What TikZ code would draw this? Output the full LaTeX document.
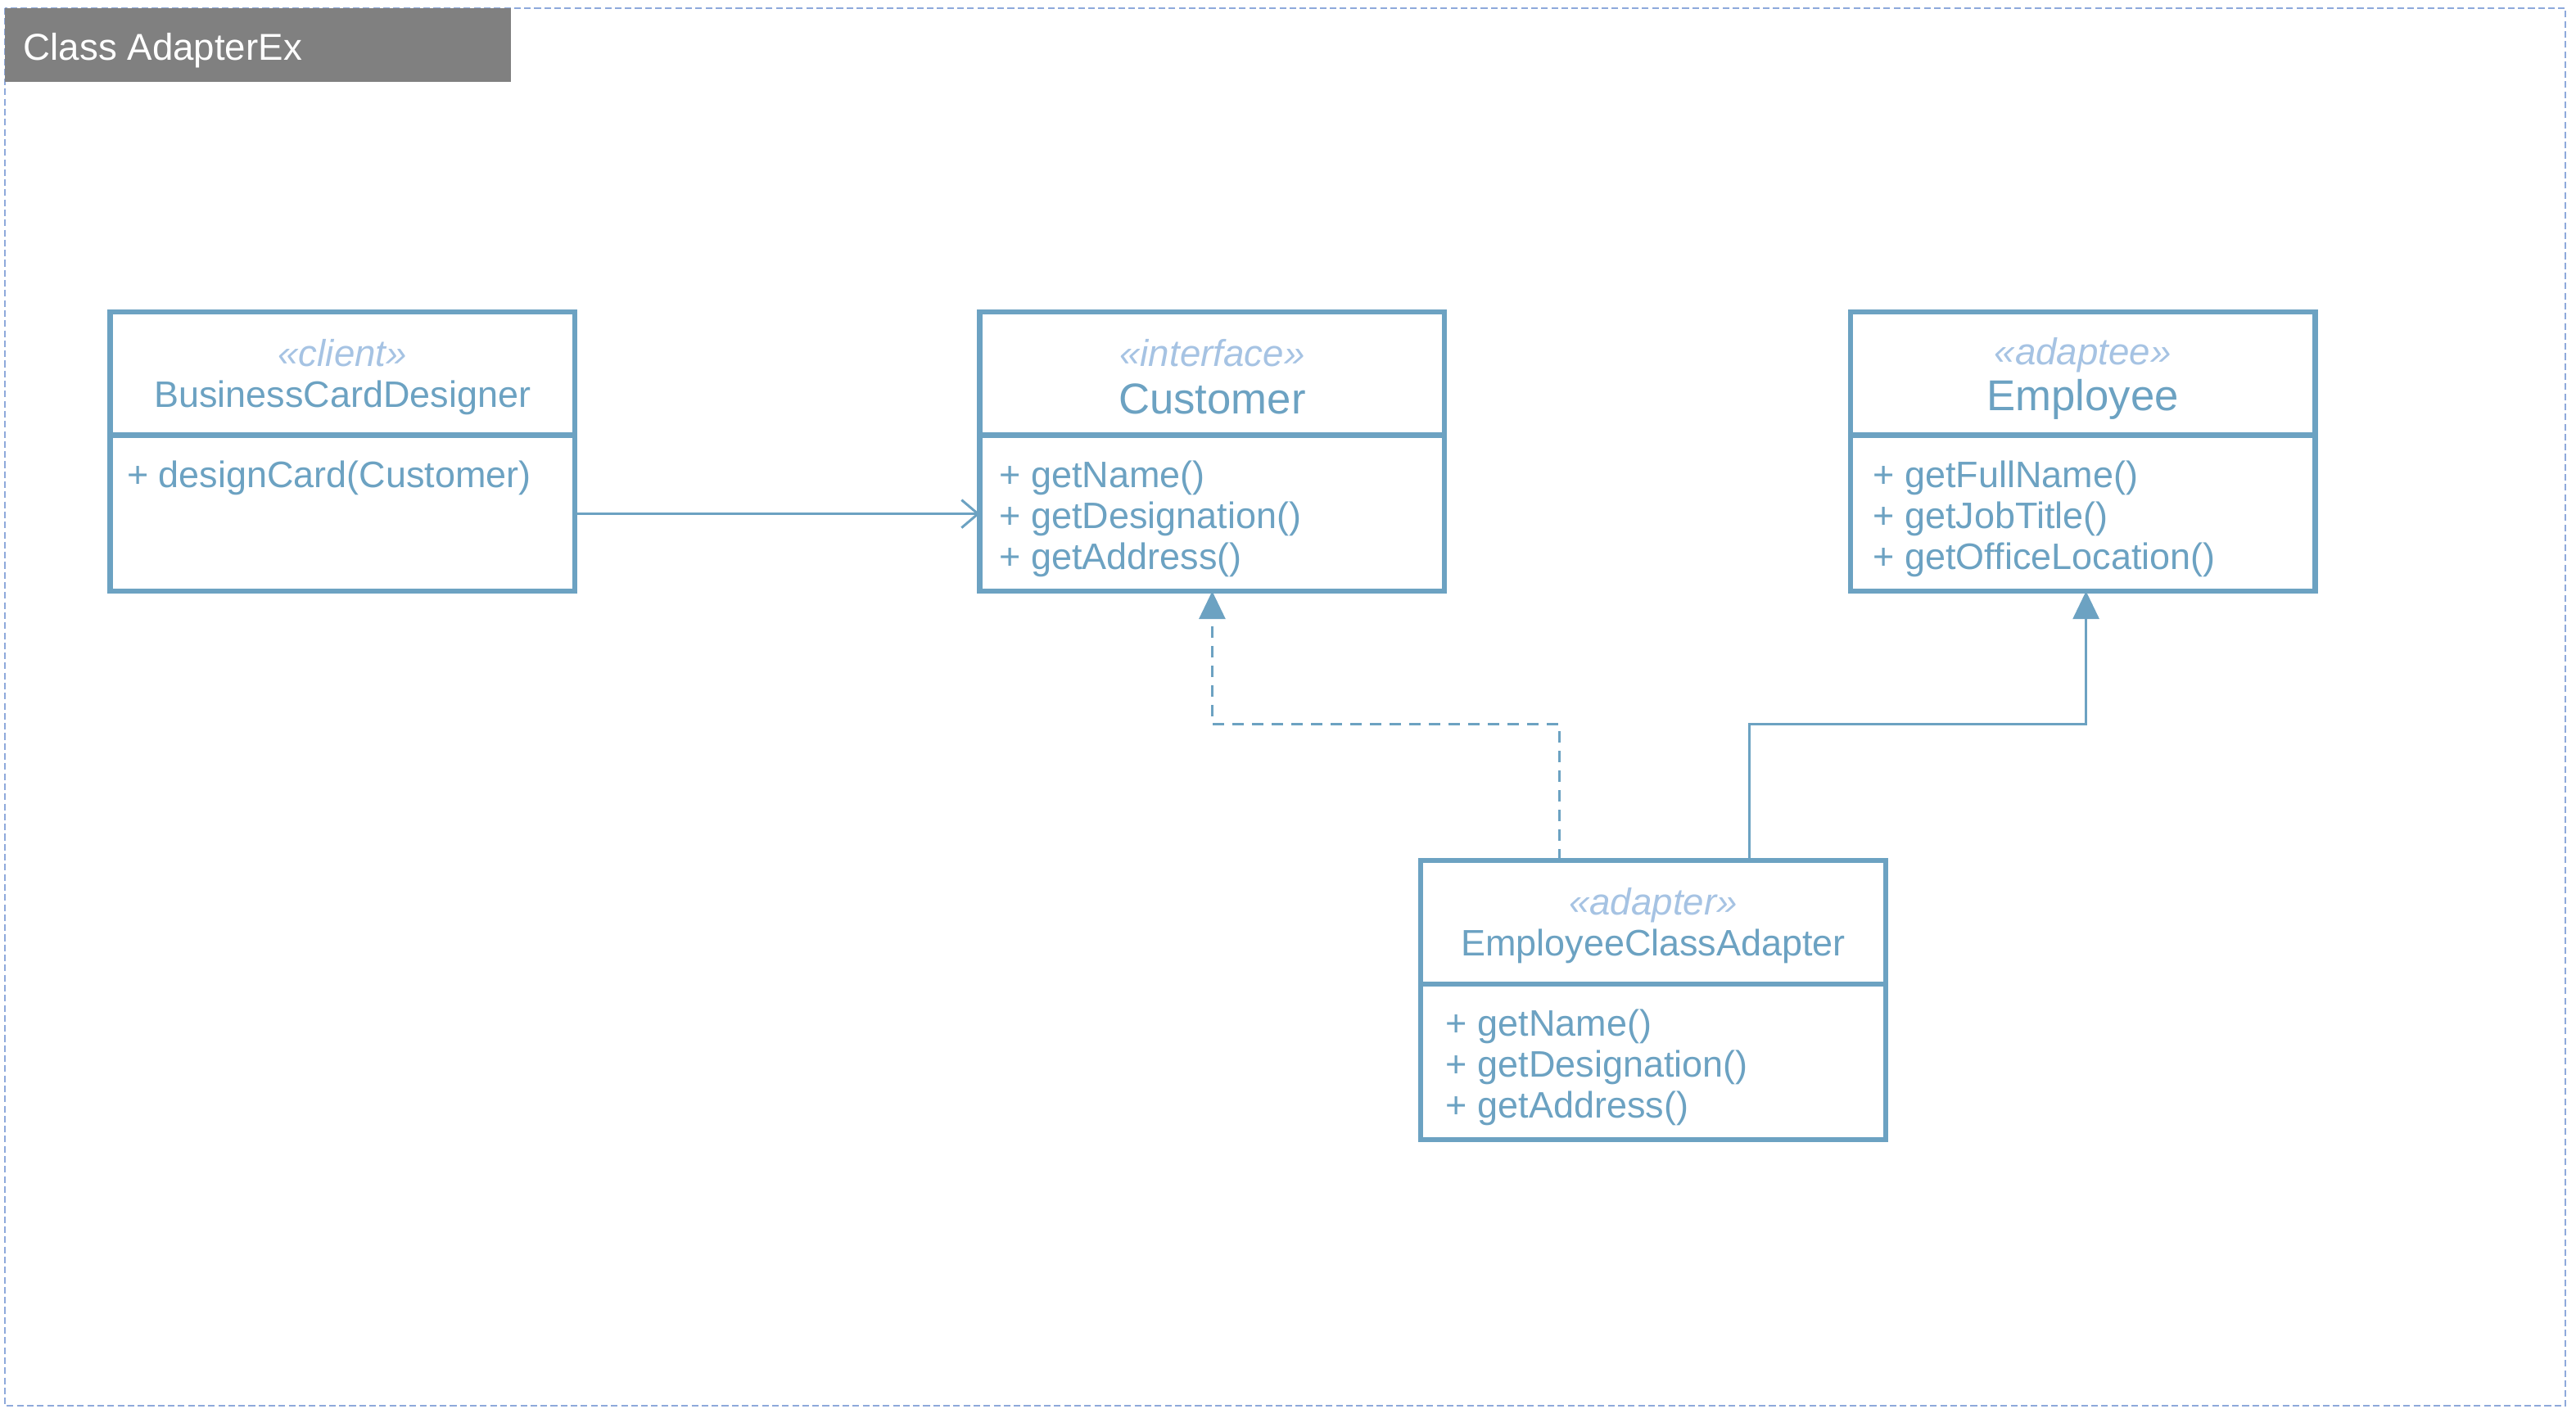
\documentclass[tikz,border=0pt]{standalone}
\usepackage{fontspec}
\setmainfont{Liberation Sans}
\usetikzlibrary{positioning,arrows.meta}
\definecolor{umlblue}{HTML}{6CA2C2}
\definecolor{stereoblue}{HTML}{A6C3E3}
\definecolor{titlegray}{HTML}{808080}
\definecolor{frameblue}{HTML}{8EA9DB}

\begin{document}
\begin{tikzpicture}[x=0.02006cm, y=-0.02006cm,
  classbox/.style = {draw=umlblue, line width=1.8pt, minimum width=5.677cm, minimum height=3.41cm, inner sep=0pt, outer sep=0pt},
  sepline/.style = {draw=umlblue, line width=1.8pt},
  stereo/.style = {text=stereoblue, font=\itshape\fontsize{13}{15}\selectfont, inner sep=0pt},
  cname/.style = {text=umlblue, font=\fontsize{12.8}{15}\selectfont, inner sep=0pt},
  bigname/.style = {text=umlblue, font=\fontsize{15}{18}\selectfont, inner sep=0pt},
  method/.style = {text=umlblue, font=\fontsize{12.8}{15}\selectfont, inner sep=0pt, anchor=west},
  assoc/.style = {draw=umlblue, line width=0.85pt, -{Straight Barb[length=0.2cm, width=0.34cm]}},
  realize/.style = {draw=umlblue, line width=0.85pt, dash pattern=on 0.14cm off 0.1cm, -{Triangle[length=0.34cm, width=0.32cm]}},
  inherit/.style = {draw=umlblue, line width=0.85pt, -{Triangle[length=0.34cm, width=0.32cm]}}]
\useasboundingbox (0,0) rectangle (1568.3,863.4);
% frame and title
\draw[frameblue, line width=0.6pt, dash pattern=on 2.3pt off 1.2pt] (3,5) rectangle (1562,856);
\fill[titlegray] (3,5) rectangle (311,50);
\node[anchor=west, text=white, font=\fontsize{13}{15}\selectfont, inner sep=0pt] (title) at (14,31) {Class AdapterEx};
% classes
\node[classbox] (bcd) at (208.5,275) {};
\node[classbox] (cust) at (738,275) {};
\node[classbox] (emp) at (1268,275) {};
\node[classbox] (adp) at (1006.5,609) {};
\foreach \b in {bcd,cust,emp,adp}
    \draw[sepline] ([yshift=-1.505cm]\b.north west) -- ([yshift=-1.505cm]\b.north east);
\node[stereo] (bcdst) at (208.5,215) {«client»};
\node[cname] (bcdname) at (208.5,242) {BusinessCardDesigner};
\node[method] (bcdm1) at (77,291) {+ designCard(Customer)};
\node[stereo] (custst) at (738,215) {«interface»};
\node[bigname] (custname) at (738,243) {Customer};
\foreach \m [count=\i] in {getName(),getDesignation(),getAddress()}
    \node[method] (custm\i) at (608,266+25*\i) {+ \m};
\node[stereo] (empst) at (1268,216) {«adaptee»};
\node[bigname] (empname) at (1268,243) {Employee};
\foreach \m [count=\i] in {getFullName(),getJobTitle(),getOfficeLocation()}
    \node[method] (empm\i) at (1140,266+25*\i) {+ \m};
\node[stereo] (adpst) at (1006.5,551) {«adapter»};
\node[cname] (adpname) at (1006.5,576) {EmployeeClassAdapter};
\foreach \m [count=\i] in {getName(),getDesignation(),getAddress()}
    \node[method] (adpm\i) at (880,600+25*\i) {+ \m};
% relations
\draw[assoc] ([yshift=-0.76cm]bcd.east) -- ([yshift=-0.76cm]cust.west);
\draw[realize] ([xshift=-1.15cm]adp.north) -- ++(0,-83) -| (cust.south);
\draw[inherit] ([xshift=1.17cm]adp.north) -- ++(0,-83) -| ([xshift=0.04cm]emp.south);
\end{tikzpicture}
\end{document}
